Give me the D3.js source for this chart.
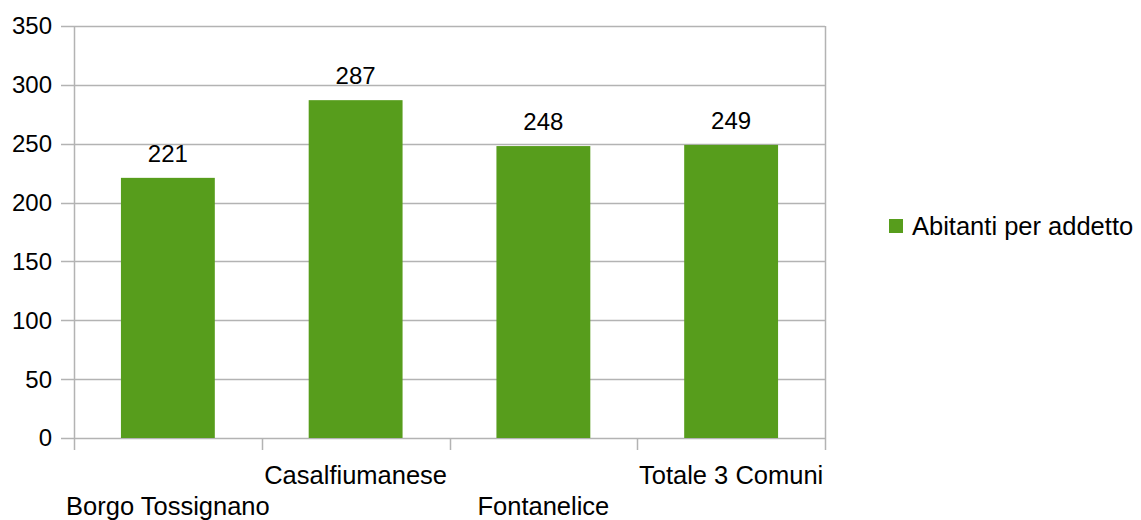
<!DOCTYPE html>
<html>
<head>
<meta charset="utf-8">
<script src="https://cdn.jsdelivr.net/npm/d3@7"></script>
<style>
  body { margin: 0; background: #fff; }
  text { font-family: "Liberation Sans", Arial, sans-serif; fill: #000; }
</style>
</head>
<body>
<div id="chart"></div>
<script>
// data
var comuni = ["Borgo Tossignano", "Casalfiumanese", "Fontanelice", "Totale 3 Comuni"];
var abitanti = [221, 287, 248, 249];
var yTicks = [0, 50, 100, 150, 200, 250, 300, 350];
var serieName = "Abitanti per addetto";

var W = 1141, H = 520;
var mLeft = 74, mRight = 825, mTop = 26, mBottom = 438;
var green = "#579d1c", grid = "#b3b3b3";

var svg = d3.select("#chart").append("svg").attr("width", W).attr("height", H);

var x = d3.scaleBand().domain(comuni).range([mLeft, mRight]).paddingInner(0.5).paddingOuter(0.25);
var xOuter = d3.scaleBand().domain(comuni).range([mLeft, mRight]);
var y = d3.scaleLinear().domain([0, 350]).range([mBottom, mTop]);

// horizontal grid + left ticks
svg.append("g").selectAll("line").data(yTicks).enter().append("line")
    .attr("x1", mLeft - 13).attr("x2", mRight)
    .attr("y1", function(d){ return Math.round(y(d)) + 0.5; })
    .attr("y2", function(d){ return Math.round(y(d)) + 0.5; })
    .attr("stroke", grid).attr("stroke-width", 1.5);

// right border
svg.append("line").attr("x1", mRight + 0.5).attr("x2", mRight + 0.5)
    .attr("y1", mTop).attr("y2", mBottom).attr("stroke", grid).attr("stroke-width", 1.5);

// y axis line
svg.append("line").attr("x1", mLeft + 0.5).attr("x2", mLeft + 0.5)
    .attr("y1", mTop).attr("y2", mBottom + 12).attr("stroke", grid).attr("stroke-width", 1.5);

// category ticks below
var tickX = comuni.map(function(c){ return xOuter(c) + xOuter.bandwidth(); });
svg.append("g").selectAll("line").data(tickX).enter().append("line")
    .attr("x1", function(d){ return Math.round(d) + 0.5; })
    .attr("x2", function(d){ return Math.round(d) + 0.5; })
    .attr("y1", mBottom).attr("y2", mBottom + 12)
    .attr("stroke", grid).attr("stroke-width", 1.5);

// y labels
svg.append("g").selectAll("text").data(yTicks).enter().append("text")
    .attr("x", 52).attr("y", function(d){ return y(d); })
    .attr("dy", "0.35em")
    .attr("text-anchor", "end").attr("font-size", 24)
    .text(function(d){ return d; });

// bars
svg.append("g").selectAll("rect").data(abitanti).enter().append("rect")
    .attr("x", function(d, i){ return x(comuni[i]); })
    .attr("y", function(d){ return y(d); })
    .attr("width", x.bandwidth())
    .attr("height", function(d){ return mBottom - y(d); })
    .attr("fill", green);

// value labels
svg.append("g").selectAll("text").data(abitanti).enter().append("text")
    .attr("x", function(d, i){ return x(comuni[i]) + x.bandwidth() / 2; })
    .attr("y", function(d){ return y(d) - 16; })
    .attr("text-anchor", "middle").attr("font-size", 24)
    .text(function(d){ return d; });

// category labels, staggered
svg.append("g").selectAll("text").data(comuni).enter().append("text")
    .attr("x", function(d){ return x(d) + x.bandwidth() / 2; })
    .attr("y", function(d, i){ return i % 2 === 0 ? 515 : 484; })
    .attr("text-anchor", "middle").attr("font-size", 25.5)
    .text(function(d){ return d; });

// legend
svg.append("rect").attr("x", 889).attr("y", 219).attr("width", 14).attr("height", 14).attr("fill", green);
svg.append("text").attr("x", 912).attr("y", 235).attr("font-size", 25.5).text(serieName);
</script>
</body>
</html>
